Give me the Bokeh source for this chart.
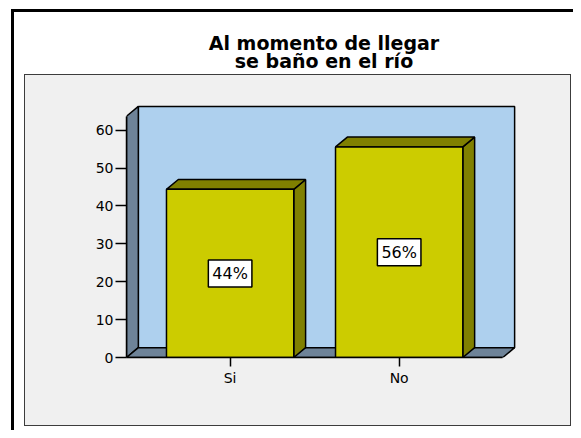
from bokeh.plotting import figure
from bokeh.models import Range1d, LinearAxis, FixedTicker, Label, ColumnDataSource
from bokeh.embed import file_html
from bokeh.resources import INLINE
from bokeh.core.properties import value

# ---------------- data ----------------
categories = ["Si", "No"]
positions = [1, 2]
percent = [44.4, 55.6]
y_ticks = [0, 10, 20, 30, 40, 50, 60]
title_lines = ["Al momento de llegar", "se baño en el río"]
y_axis_max = 63.7

# ---------------- layout (figure pixels) ----------------
W, H = 573, 430
SX, SY = W / 581, H / 438          # reference image pixels -> figure pixels
PX_PER_X = 171.4 * SX
PX_PER_Y = 3.858 * SY
FRAME_L, FRAME_R, FRAME_T, FRAME_B = 126, 518, 103, 357
PAD = 0.613
X1_FX = FRAME_L + PAD * PX_PER_X   # pixel column of x = 1
Y0_FY = FRAME_B                    # pixel row of y = 0

PANEL = "#f0f0f0"
BLUE = "#aed0ee"
SLATE = "#6e8398"
YELLOW = "#cccc00"
OLIVE = "#808000"
FONT = "DejaVu Sans"


def xd(px):  # reference pixel column -> data x
    return 1 + (px * SX - X1_FX) / PX_PER_X


def yd(py):  # reference pixel row -> data y
    return (Y0_FY - py * SY) / PX_PER_Y


BAR_W = 0.753
DX = 12 * SX / PX_PER_X
DY = 10 * SY / PX_PER_Y
X_LO = positions[0] - PAD
X_HI = positions[-1] + PAD


def layer(color, left, top, width, height):
    return (f"linear-gradient({color},{color}) {left}px {top}px / "
            f"{width}px {height}px no-repeat")


# white page, black frame lines, grey panel with a dark border (behind the canvas)
page_bg = ", ".join([
    layer("#000000", 11, 9, 3, H),
    layer("#000000", 11, 9, W, 3),
    layer(PANEL, 25, 75, 545, 350),
    layer("#3c3c3c", 24, 74, 547, 352),
]) + ", #ffffff"

p = figure(width=W, height=H, output_backend="svg", toolbar_location=None,
           x_range=Range1d(X_LO, 1 + (FRAME_R - X1_FX) / PX_PER_X),
           y_range=Range1d(0, (Y0_FY - FRAME_T) / PX_PER_Y),
           x_axis_type=None, y_axis_type=None,
           min_border_left=FRAME_L, min_border_right=W - FRAME_R,
           min_border_top=FRAME_T, min_border_bottom=H - FRAME_B,
           background_fill_color=PANEL, border_fill_color=None,
           outline_line_color=None, styles={"background": page_bg})

# 3D box: back wall, left wall, floor
p.quad(left=X_LO + DX, right=X_HI + DX, bottom=DY, top=y_axis_max + DY,
       fill_color=BLUE, line_color="black", line_width=1.5)
p.patch([X_LO, X_LO, X_LO + DX, X_LO + DX], [0, y_axis_max, y_axis_max + DY, DY],
        fill_color=SLATE, line_color="black", line_width=1.5)
p.patch([X_LO, X_LO + DX, X_HI + DX, X_HI], [0, DY, DY, 0],
        fill_color=SLATE, line_color="black", line_width=1.5)

# bars
hw = BAR_W / 2
side_xs = [[x + hw, x + hw + DX, x + hw + DX, x + hw] for x in positions]
side_ys = [[0, DY, v + DY, v] for v in percent]
top_xs = [[x - hw, x - hw + DX, x + hw + DX, x + hw] for x in positions]
top_ys = [[v, v + DY, v + DY, v] for v in percent]
p.patches(side_xs, side_ys, fill_color=OLIVE, line_color="black", line_width=1.5)
p.patches(top_xs, top_ys, fill_color=OLIVE, line_color="black", line_width=1.5)
p.vbar(x=positions, width=BAR_W, top=percent, bottom=0,
       fill_color=YELLOW, line_color="black", line_width=1.5)

# value labels
src = ColumnDataSource(dict(x=positions, y=[v / 2 for v in percent],
                            label=[f"{round(v)}%" for v in percent]))
p.text(x="x", y="y", text="label", source=src, text_align="center",
       text_baseline="middle", text_font=value(FONT), text_font_size="16px",
       text_color="black", background_fill_color="white",
       border_line_color="black", border_line_width=1.5, padding=4)

# axes
yaxis = LinearAxis(ticker=FixedTicker(ticks=y_ticks), bounds=(0, y_axis_max),
                   axis_line_color="black", axis_line_width=1.5,
                   major_tick_out=11, major_tick_in=0,
                   minor_tick_out=0, minor_tick_in=0, major_tick_line_width=1.5,
                   major_tick_line_color="black",
                   major_label_text_font=FONT, major_label_text_font_size="14px",
                   major_label_text_color="black", major_label_standoff=2)
p.add_layout(yaxis, "left")
xaxis = LinearAxis(ticker=FixedTicker(ticks=positions), bounds=(X_LO, X_HI),
                   major_label_overrides=dict(zip(positions, categories)),
                   axis_line_color="black", axis_line_width=1.5,
                   major_tick_out=9, major_tick_in=0,
                   minor_tick_out=0, minor_tick_in=0, major_tick_line_width=1.5,
                   major_tick_line_color="black",
                   major_label_text_font=FONT, major_label_text_font_size="14px",
                   major_label_text_color="black", major_label_standoff=3)
p.add_layout(xaxis, "below")

# title (side-panel labels are not clipped to the frame)
for i, line in enumerate(title_lines):
    p.add_layout(Label(x=xd(328), y=yd(43 + i * 19), text=line, text_align="center",
                       text_baseline="alphabetic", text_font=FONT,
                       text_font_style="bold", text_font_size="19px",
                       text_color="black"), "above")

open("out.html", "w").write(file_html(p, INLINE))
